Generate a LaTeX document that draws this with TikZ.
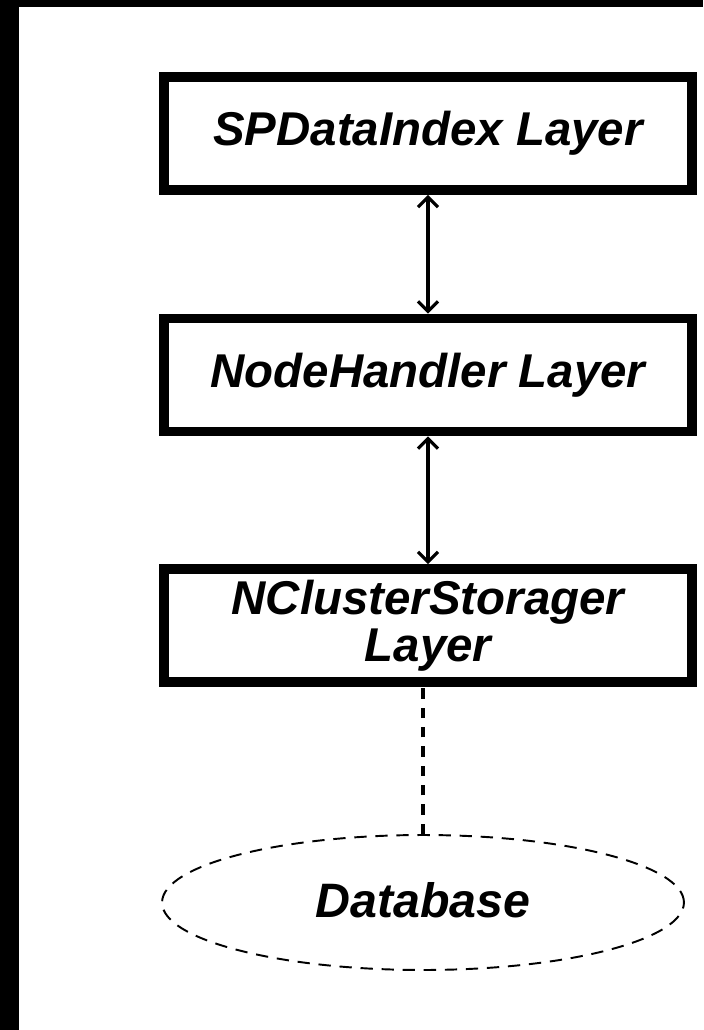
\documentclass[tikz,border=0pt]{standalone}
\usepackage{fontspec}
\setmainfont{Liberation Sans}
\usetikzlibrary{arrows.meta,shapes.geometric}
\tikzset{
  layer/.style={draw, line width=5.6pt, fill=white, align=center, minimum width=10.56cm, minimum height=2.26cm, font=\fontsize{27}{27}\selectfont\bfseries\itshape},
  dbase/.style={ellipse, draw, line width=1.1pt, dash pattern=on 7pt off 5pt, minimum width=10.44cm, minimum height=2.7cm, font=\fontsize{27.5}{28}\selectfont\bfseries\itshape},
  link/.style={{Straight Barb[length=2mm,width=4mm]}-{Straight Barb[length=2mm,width=4mm]}, line width=1.8pt},
  dblink/.style={line width=1.8pt, dash pattern=on 6pt off 5pt},
}

\begin{document}
\begin{tikzpicture}[x=0.02cm, y=-0.02cm]
    % frame
    \fill[black] (0,0) rectangle (703,1030);
    \fill[white] (19,7) rectangle (703,1030);
    \useasboundingbox (0,0) rectangle (703,1030);
    \node[layer] (spindex) at (428,133.5) {SPDataIndex Layer};
    \node[layer] (handler) at (428,375) {NodeHandler Layer};
    \node[layer] (storager) at (428,625.5) {NClusterStorager\\Layer};
    \node[dbase] (database) at (423,902.5) {\raisebox{3pt}{Database}};
    \draw[link] (spindex) -- (handler);
    \draw[link] (handler) -- (storager);
    \draw[dblink] (database.north) -- (database.north |- storager.south);
  \end{tikzpicture}
\end{document}
